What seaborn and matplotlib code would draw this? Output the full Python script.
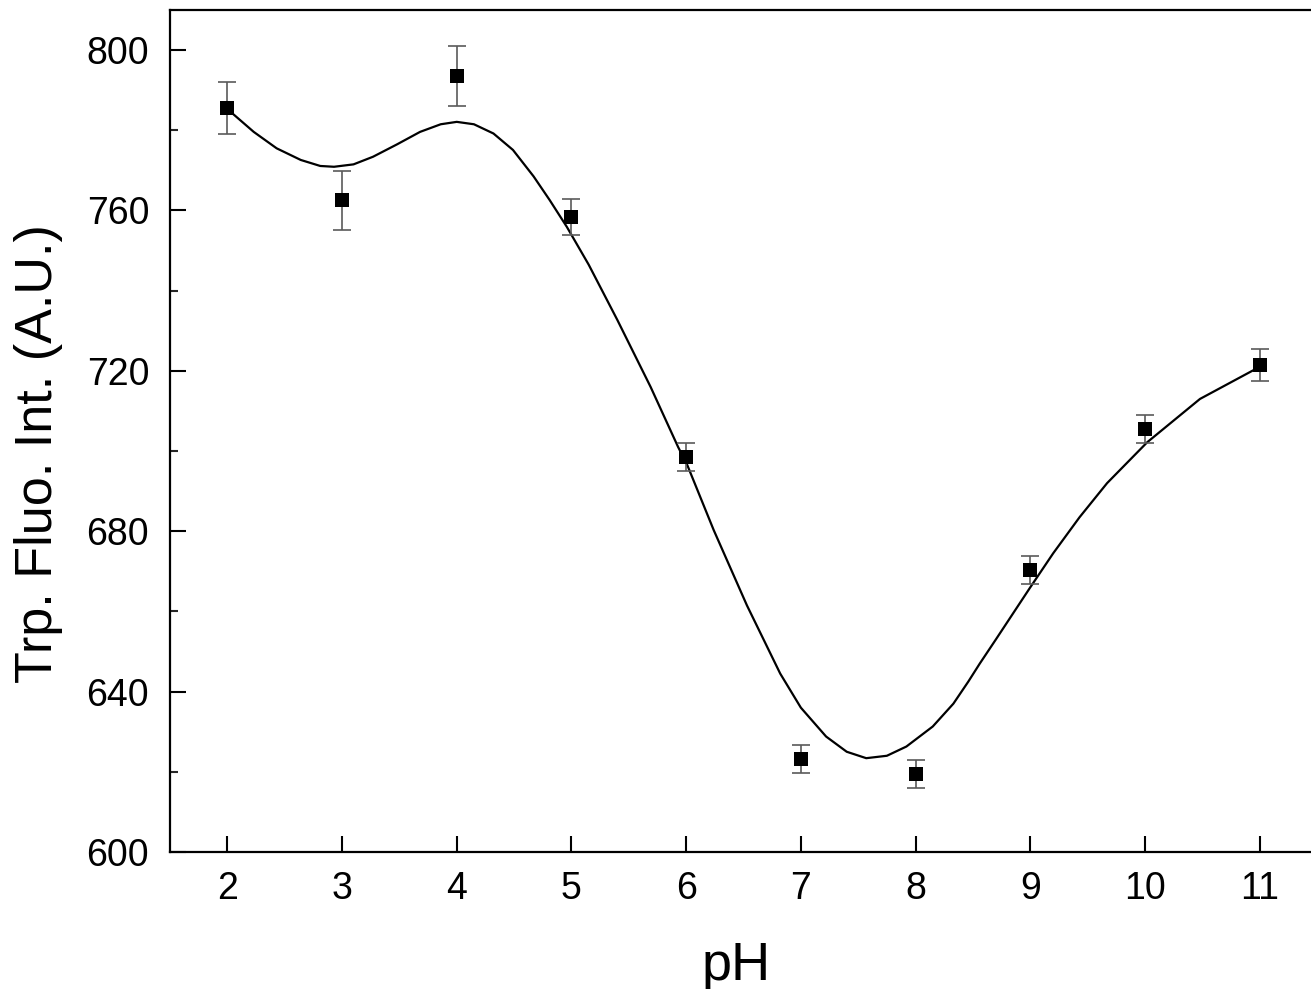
import numpy as np
import pandas as pd
import seaborn as sns
import matplotlib.pyplot as plt
from matplotlib.ticker import MultipleLocator

# measured points
ph = [2, 3, 4, 5, 6, 7, 8, 9, 10, 11]
intensity = [785.5, 762.5, 793.5, 758.4, 698.4, 623.2, 619.4, 670.3, 705.4, 721.4]
err = [6.5, 7.4, 7.5, 4.5, 3.5, 3.4, 3.5, 3.5, 3.5, 4.0]

# smooth curve
curve_ph = [2.00, 2.23, 2.43, 2.64, 2.81, 2.93, 3.10, 3.27, 3.48, 3.68,
            3.86, 4.00, 4.15, 4.32, 4.49, 4.67, 4.81, 4.96, 5.15, 5.40,
            5.69, 5.93, 6.01, 6.24, 6.53, 6.82, 7.00, 7.22, 7.40, 7.57,
            7.75, 7.92, 8.15, 8.33, 8.46, 8.56, 8.70, 8.85, 9.00, 9.20,
            9.43, 9.67, 10.02, 10.48, 11.00]
curve_val = [785.3, 779.6, 775.5, 772.6, 771.1, 770.9, 771.5, 773.4, 776.5, 779.6,
             781.5, 782.1, 781.5, 779.2, 775.1, 768.5, 762.6, 755.9, 746.5, 732.7,
             716.0, 701.0, 696.5, 680.3, 661.5, 644.5, 636.0, 628.8, 625.0, 623.4,
             624.0, 626.3, 631.3, 637.0, 642.5, 647.0, 653.0, 659.5, 666.0, 674.5,
             683.5, 692.0, 702.2, 713.0, 721.0]

pts = pd.DataFrame({"pH": ph, "I": intensity, "err": err})
fit = pd.DataFrame({"pH": curve_ph, "I": curve_val})

sns.set_theme(style="ticks")
plt.rcParams['font.family'] = ['Liberation Sans', 'DejaVu Sans']

fig = plt.figure(figsize=(13.11, 9.89), dpi=100)
ax = fig.add_axes([170/1311, 1-852/989, 1147/1311, 842/989])

sns.lineplot(data=fit, x="pH", y="I", color="black", linewidth=1.6, sort=False, ax=ax, zorder=2)
ax.errorbar(pts["pH"], pts["I"], yerr=pts["err"], fmt="none", ecolor="#5a5a5a",
            elinewidth=1.2, capsize=6.5, capthick=1.2, zorder=3)
sns.scatterplot(data=pts, x="pH", y="I", marker="s", s=90, color="black", linewidth=0, ax=ax, zorder=4)

ax.set_xlim(1.5, 11.5)
ax.set_ylim(600, 810)
ax.set_xticks(range(2, 12))
ax.set_yticks(range(600, 801, 40))
ax.yaxis.set_minor_locator(MultipleLocator(20))

for s in ax.spines.values():
    s.set_linewidth(1.6)
    s.set_color("black")
ax.tick_params(axis="both", which="major", direction="in", length=11.5, width=1.5,
               labelsize=27, colors="black")
ax.tick_params(axis="y", which="minor", direction="in", length=6, width=1.5)
ax.tick_params(axis="x", pad=14)
ax.tick_params(axis="y", pad=15)

ax.set_xlabel("pH", fontsize=39, color="black")
ax.set_ylabel("Trp. Fluo. Int. (A.U.)", fontsize=37.5, color="black")
ax.xaxis.set_label_coords(0.4935, -0.106)
ax.yaxis.set_label_coords(-0.093, 0.4727)

fig.savefig("out.png", dpi=100)
